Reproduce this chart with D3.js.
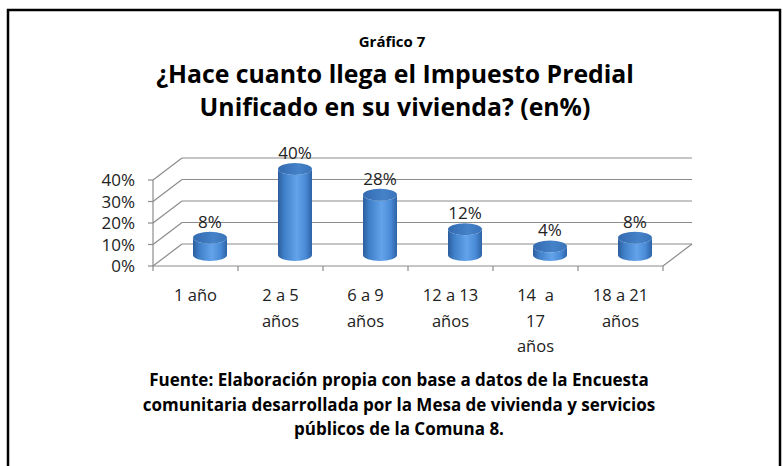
<!DOCTYPE html>
<html><head>
<meta charset="utf-8">
<title>Gráfico 7</title>
<style>
  body {margin:0; background:#fff;}
  text {font-family: "Open Sans", Lato, sans-serif;}
</style>
</head>
<body>
<script src="https://d3js.org/d3.v7.min.js"></script>
<script>
// datos
var categorias = ["1 año", "2 a 5 años", "6 a 9 años", "12 a 13 años", "14  a 17 años", "18 a 21 años"];
var etiquetas = [["1 año"], ["2 a 5", "años"], ["6 a 9", "años"], ["12 a 13", "años"], ["14  a", "17", "años"], ["18 a 21", "años"]];
var valores = [0.08, 0.40, 0.28, 0.12, 0.04, 0.08];
var ticks = [0, 0.1, 0.2, 0.3, 0.4];
var titulo = ["¿Hace cuanto llega el Impuesto Predial", "Unificado en su vivienda? (en%)"];
var fuente = ["Fuente: Elaboración propia con base a datos de la Encuesta",
              "comunitaria desarrollada por la Mesa de vivienda y servicios",
              "públicos de la Comuna 8."];

var width = 783, height = 466;
var svg = d3.select("body").append("svg")
    .attr("width", width).attr("height", height);

// marco
svg.append("rect").attr("x", 8).attr("y", 10).attr("width", 772).attr("height", 480)
   .attr("fill", "#fff").attr("stroke", "#000").attr("stroke-width", 2.5);

svg.append("text").attr("x", 392).attr("y", 47).attr("text-anchor", "middle")
   .attr("font-size", 15).attr("font-weight", "bold").text("Gráfico 7");
svg.selectAll(".tit").data(titulo).enter().append("text")
   .attr("x", 395).attr("y", function(d, i){ return 83 + i*33; })
   .attr("text-anchor", "middle").attr("font-size", 24.8).attr("font-weight", "bold")
   .text(function(d){ return d; });

// escalas (plano frontal) y profundidad 3D
var dx = 29, dy = 22;
var x = d3.scaleBand().domain(categorias).range([153, 663]);
var y = d3.scaleLinear().domain([0, 0.4]).range([266, 180]);

var grid = svg.append("g").attr("stroke", "#8c8c8c").attr("stroke-width", 1.2).attr("fill", "none");
// pared trasera
grid.selectAll(".h").data(ticks).enter().append("line")
   .attr("x1", 153 + dx).attr("x2", 663 + dx)
   .attr("y1", function(d){ return y(d) - dy; }).attr("y2", function(d){ return y(d) - dy; });
// pared lateral
grid.selectAll(".d").data(ticks).enter().append("line")
   .attr("x1", 153).attr("x2", 153 + dx)
   .attr("y1", function(d){ return y(d); }).attr("y2", function(d){ return y(d) - dy; });
grid.append("line").attr("x1", 153).attr("x2", 153).attr("y1", y(0)).attr("y2", y(0.4));
// piso
grid.append("line").attr("x1", 153).attr("x2", 663).attr("y1", y(0)).attr("y2", y(0));
grid.append("line").attr("x1", 663).attr("x2", 663 + dx).attr("y1", y(0)).attr("y2", y(0) - dy);
grid.selectAll(".t").data(categorias.concat(["fin"])).enter().append("line")
   .attr("x1", function(d, i){ return 153 + i * x.bandwidth(); })
   .attr("x2", function(d, i){ return 153 + i * x.bandwidth(); })
   .attr("y1", y(0)).attr("y2", y(0) + 5);
grid.selectAll(".yt").data(ticks).enter().append("line")
   .attr("x1", 148).attr("x2", 153)
   .attr("y1", function(d){ return y(d); }).attr("y2", function(d){ return y(d); });

svg.selectAll(".ylab").data(ticks).enter().append("text")
   .attr("x", 135).attr("y", function(d){ return y(d) + 6; })
   .attr("text-anchor", "end").attr("font-size", 17).attr("fill", "#222")
   .text(d3.format(".0%"));

// degradado de cilindros
var defs = svg.append("defs");
var g1 = defs.append("linearGradient").attr("id", "cuerpo");
[["0%", "#2c5d9c"], ["18%", "#3f7fc8"], ["55%", "#62a3ea"], ["80%", "#4b8cd8"], ["100%", "#2d63a6"]]
  .forEach(function(s){ g1.append("stop").attr("offset", s[0]).attr("stop-color", s[1]); });
var g2 = defs.append("linearGradient").attr("id", "tapa");
[["0%", "#336ab0"], ["60%", "#4582c8"], ["100%", "#3a74ba"]]
  .forEach(function(s){ g2.append("stop").attr("offset", s[0]).attr("stop-color", s[1]); });

var rx = 17, ry = 6;
var barras = svg.selectAll(".bar").data(valores).enter().append("g");
function cx(i){ return x(categorias[i]) + x.bandwidth() / 2 + dx / 2; }
barras.append("path")
   .attr("fill", "url(#cuerpo)")
   .attr("d", function(d, i){
      var c = cx(i), b = y(0) - dy / 2, t = y(d) - dy / 2;
      return "M" + (c - rx) + "," + t + "L" + (c - rx) + "," + b +
             "A" + rx + "," + ry + " 0 0 0 " + (c + rx) + "," + b +
             "L" + (c + rx) + "," + t +
             "A" + rx + "," + ry + " 0 0 1 " + (c - rx) + "," + t + "Z";
   });
barras.append("ellipse")
   .attr("cx", function(d, i){ return cx(i); })
   .attr("cy", function(d){ return y(d) - dy / 2; })
   .attr("rx", rx).attr("ry", ry).attr("fill", "url(#tapa)");
barras.append("text")
   .attr("x", function(d, i){ return cx(i); })
   .attr("y", function(d){ return y(d) - dy / 2 - ry - 4; })
   .attr("text-anchor", "middle").attr("font-size", 17).attr("fill", "#222")
   .text(d3.format(".0%"));

// etiquetas de categoría
svg.selectAll(".xlab").data(etiquetas).enter().append("text")
   .attr("text-anchor", "middle").attr("font-size", 16.5).attr("fill", "#222")
   .style("white-space", "pre")
   .attr("x", function(d, i){ return x(categorias[i]) + x.bandwidth() / 2; })
   .attr("y", 301)
   .each(function(d){
      var t = d3.select(this);
      d.forEach(function(l, j){
         t.append("tspan").attr("x", t.attr("x")).attr("dy", j ? 25.5 : 0).text(l);
      });
   });

svg.selectAll(".fte").data(fuente).enter().append("text")
   .attr("x", 399).attr("y", function(d, i){ return 386 + i * 24.5; })
   .attr("text-anchor", "middle").attr("font-size", 17).attr("font-weight", "bold")
   .text(function(d){ return d; });
</script>
</body></html>
